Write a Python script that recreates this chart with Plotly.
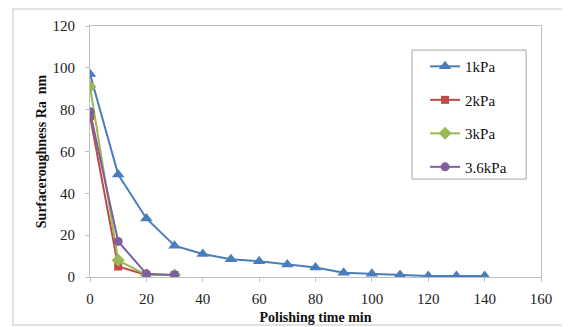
import plotly.graph_objects as go

t_1kpa = [0, 10, 20, 30, 40, 50, 60, 70, 80, 90, 100, 110, 120, 130, 140]
ra_1kpa = [97, 49, 28, 15, 11, 8.5, 7.5, 6, 4.5, 2, 1.5, 1, 0.5, 0.5, 0.5]
t_short = [0, 10, 20, 30]
ra_2kpa = [77, 5, 1, 1]
ra_3kpa = [91, 8, 1, 1]
ra_36kpa = [79, 17, 1.5, 1]

names = ["1kPa", "2kPa", "3kPa", "3.6kPa"]
colors = ["#4A7EBB", "#BE4B48", "#98B954", "#7D60A0"]
symbols = ["triangle-up", "square", "diamond", "circle"]
sizes = [11, 8, 10, 9]
xs = [t_1kpa, t_short, t_short, t_short]
ys = [ra_1kpa, ra_2kpa, ra_3kpa, ra_36kpa]

font = "Liberation Serif, Times New Roman, serif"

fig = go.Figure()
for i in range(4):
    fig.add_trace(go.Scatter(
        x=xs[i], y=ys[i], name=names[i], mode="lines+markers",
        line=dict(color=colors[i], width=2),
        marker=dict(symbol=symbols[i], size=sizes[i], color=colors[i]),
        legendgroup=names[i],
    ))

axis_common = dict(
    showgrid=False, zeroline=False, showline=True, linecolor="#BFBFBF", linewidth=1,
    mirror=True, ticks="outside", ticklen=4, tickcolor="#BFBFBF",
    tickfont=dict(family=font, size=15, color="#222"), automargin=False,
)
fig.update_xaxes(range=[0, 160], dtick=20, ticklabelstandoff=4, **axis_common,
                 title=dict(text="<b>Polishing time min</b>", font=dict(family=font, size=14, color="#111"), standoff=6))
fig.update_yaxes(range=[0, 120], dtick=20, ticklabelstandoff=7, **axis_common,
                 title=dict(text="<b>Surfaceroughness Ra  nm</b>", font=dict(family=font, size=14, color="#111"), standoff=2))

fig.update_layout(
    width=570, height=327,
    margin=dict(l=82, r=37, t=18, b=58),
    paper_bgcolor="white", plot_bgcolor="white",
    showlegend=True,
    legend=dict(
        x=0.743, y=0.904, xanchor="left", yanchor="top",
        borderwidth=0, bgcolor="rgba(0,0,0,0)",
        font=dict(family=font, size=15, color="#111"),
        traceorder="grouped", tracegroupgap=11,
    ),
    shapes=[
        dict(type="rect", xref="paper", yref="paper",
             x0=-0.1707, x1=1.062, y0=-0.191, y1=1.0677,
             line=dict(color="#D9D9D9", width=1.5), layer="below"),
        dict(type="rect", xref="paper", yref="paper",
             x0=0.714, x1=0.967, y0=0.390, y1=0.904,
             line=dict(color="#A6A6A6", width=1), fillcolor="white", layer="below"),
    ],
)

fig.write_html("out.html")
